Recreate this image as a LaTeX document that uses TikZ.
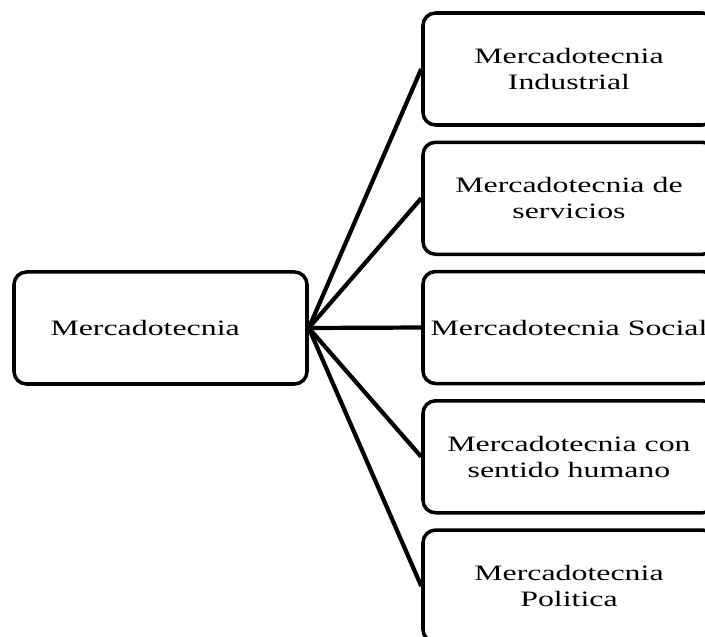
\documentclass[tikz,border=0pt]{standalone}
\usepackage{fontspec}
\setmainfont{Liberation Serif}[FakeStretch=1.45]
\usetikzlibrary{positioning}
\tikzset{
  caja/.style={
	draw, % black border
	line width=2pt, % thick border as in the scan
	rounded corners=0.25cm,
	fill=white,
	minimum width=5.84cm, minimum height=2.24cm,
	align=center, % two-line labels
	font=\fontsize{12.5}{14.6}\selectfont,
  },
  rama/.style={line width=2.4pt}, % the connecting lines
}

\begin{document}
\begin{tikzpicture}
\clip (0,0) rectangle (14.1,-12.74);
\useasboundingbox (0,0) rectangle (14.1,-12.74);

\node[caja, minimum width=5.86cm, text width=4.4cm, align=left] (merca) at (3.21,-6.56) {Mercadotecnia};

\node[caja] (ind) at (11.38,-1.38) {Mercadotecnia\\Industrial};
\node[caja, below=0.275cm of ind] (serv) {Mercadotecnia de\\servicios};
\node[caja, below=0.275cm of serv] (soc) {Mercadotecnia Social};
\node[caja, below=0.275cm of soc] (hum) {Mercadotecnia con\\sentido humano};
\node[caja, below=0.275cm of hum] (pol) {Mercadotecnia\\Politica};

\foreach \destino in {ind, serv, soc, hum, pol}
	\draw[rama] (merca.east) -- (\destino.west);
\end{tikzpicture}
\end{document}
